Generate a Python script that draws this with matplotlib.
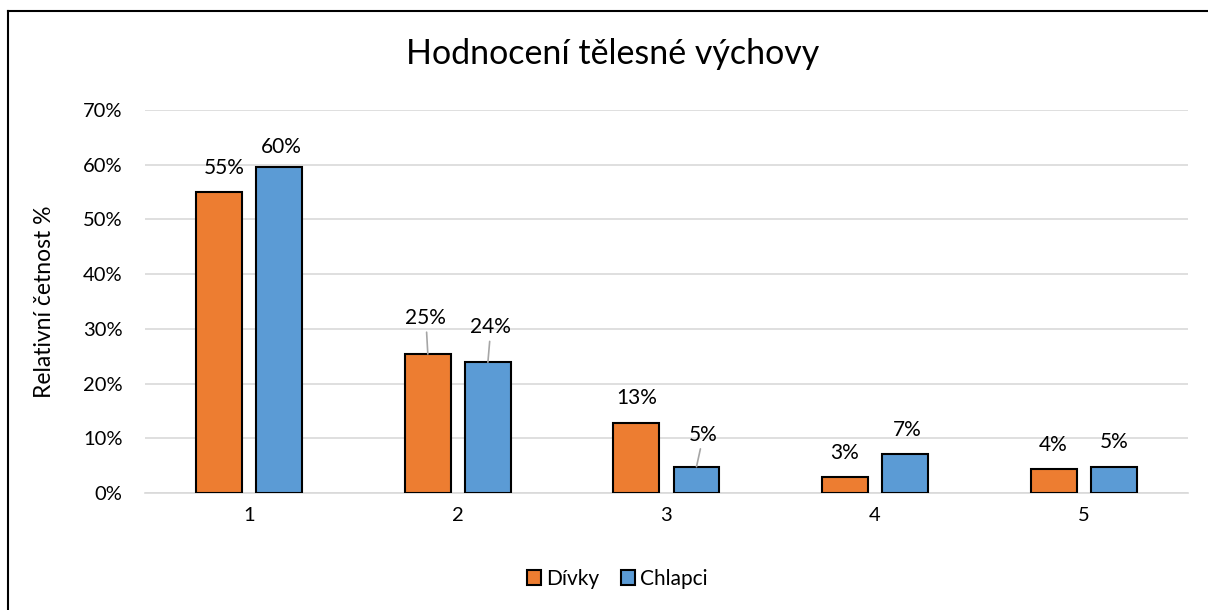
import numpy as np
import matplotlib
matplotlib.use("Agg")
import matplotlib.pyplot as plt
from matplotlib.lines import Line2D
from matplotlib.patches import Patch

plt.rcParams['font.family'] = ['Lato', 'DejaVu Sans']

# data
categories = ['1', '2', '3', '4', '5']
divky = [0.550, 0.254, 0.128, 0.029, 0.043]
chlapci = [0.596, 0.239, 0.048, 0.072, 0.048]
series_names = ['Dívky', 'Chlapci']
colors = ['#ED7D31', '#5B9BD5']

# label offsets (pixels) relative to bar top, and which labels get a leader line
divky_offsets = [(5, 24), (-2, 36), (0, 25), (0, 24), (0, 24)]
chlapci_offsets = [(2, 20), (3, 35), (7, 32), (2, 24), (0, 25)]
divky_leader = [False, True, False, False, False]
chlapci_leader = [False, True, True, False, False]

fig = plt.figure(figsize=(12.08, 6.10), dpi=100)
ax = fig.add_axes([0.12, 0.1918, 0.8634, 0.6279])

x = np.arange(len(categories))
w = 0.22
off = 0.144

groups = [(divky, -off, colors[0], divky_offsets, divky_leader),
          (chlapci, off, colors[1], chlapci_offsets, chlapci_leader)]
for vals, dx, col, offsets, leaders in groups:
    bars = ax.bar(x + dx, vals, width=w, color=col, edgecolor='black', linewidth=1.5, zorder=3)
    for b, v, (ox, oy), lead in zip(bars, vals, offsets, leaders):
        xc = b.get_x() + b.get_width() / 2
        props = None
        if lead:
            props = dict(arrowstyle='-', color='#A6A6A6', lw=1.2, shrinkA=1, shrinkB=0)
        ax.annotate(f'{round(v * 100):.0f}%', xy=(xc, v), xytext=(ox, oy),
                    textcoords='offset pixels', ha='center', va='center',
                    fontsize=15, color='#000000', arrowprops=props, zorder=4)

ax.set_xlim(-0.5, len(categories) - 0.5)
ax.set_ylim(0, 0.7)
ax.set_yticks(np.arange(0, 0.71, 0.1))
ax.set_yticklabels([f'{int(round(t * 100))}%' for t in np.arange(0, 0.71, 0.1)])
ax.set_xticks(x)
ax.set_xticklabels(categories)
ax.tick_params(axis='both', length=0, labelsize=14.5, colors='#000000')
ax.tick_params(axis='y', pad=16)
ax.tick_params(axis='x', pad=10)
ax.grid(axis='y', color='#D9D9D9', linewidth=1.2, zorder=0)
for s in ['top', 'right', 'left']:
    ax.spines[s].set_visible(False)
ax.spines['bottom'].set_color('#D9D9D9')
ax.spines['bottom'].set_linewidth(1.2)

ax.set_ylabel('Relativní četnost %', fontsize=16.5, labelpad=20)
fig.text(0.507, 0.912, 'Hodnocení tělesné výchovy', ha='center', va='center', fontsize=24.5)

handles = [Patch(facecolor=c, edgecolor='black', linewidth=1.5) for c in colors]
fig.legend(handles, series_names, loc='center', bbox_to_anchor=(0.511, 0.051), ncol=2,
           frameon=False, fontsize=15, handlelength=0.7, handleheight=0.7,
           handletextpad=0.25, columnspacing=1.0)

# outer chart border (left and top edges visible)
fig.add_artist(Line2D([8 / 1208, 8 / 1208], [0, 1 - 11 / 610], color='black', lw=1.5))
fig.add_artist(Line2D([8 / 1208, 1], [1 - 11 / 610, 1 - 11 / 610], color='black', lw=1.5))

fig.savefig('out.png', dpi=100, facecolor='white')
